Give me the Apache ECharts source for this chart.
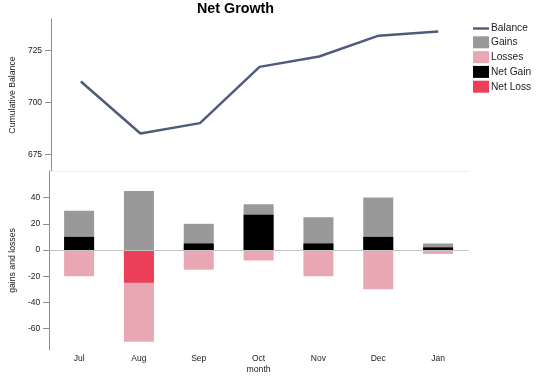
<!DOCTYPE html>
<html>
<head>
<meta charset="utf-8">
<script src="https://cdn.jsdelivr.net/npm/echarts@6/dist/echarts.min.js"></script>
<style>
  html, body { margin: 0; padding: 0; background: #fff; }
  #chart { width: 540px; height: 376px; }
</style>
</head>
<body>
<div id="chart"></div>
<script>
var months = ['Jul', 'Aug', 'Sep', 'Oct', 'Nov', 'Dec', 'Jan'];
var balance = [710, 685, 690, 717, 722, 732, 734];
var gains = [30, 45, 20, 35, 25, 40, 5];
var losses = [-20, -70, -15, -8, -20, -30, -3];
var netGain = [10, null, 5, 27, 5, 10, 2];
var netLoss = [null, -25, null, null, null, null, null];
var balanceTicks = [675, 700, 725];
var gainTicks = [-60, -40, -20, 0, 20, 40];

var font = 'Liberation Sans';
var axisGray = '#8c8c8c';
var lineColor = '#4f5c79';

var myChart = echarts.init(document.getElementById('chart'));

var option = {
    backgroundColor: '#fff',
    animation: false,
    title: {
        text: 'Net Growth',
        left: 197,
        top: 2,
        padding: 0,
        textStyle: { fontFamily: font, fontSize: 14.3, fontWeight: 'bold', color: '#000' }
    },
    legend: {
        orient: 'vertical',
        left: 473,
        top: 23.5,
        padding: 0,
        itemWidth: 16,
        itemHeight: 12,
        itemGap: 2.8,
        icon: 'rect',
        textStyle: { fontFamily: font, fontSize: 10.2, color: '#222', padding: [0, 0, 0, -3] },
        data: [
            { name: 'Balance', icon: 'path://M0,0 L16,0 L16,2.4 L0,2.4 Z', itemStyle: { color: lineColor } },
            'Gains', 'Losses', 'Net Gain', 'Net Loss'
        ]
    },
    grid: [
        { left: 47, right: 72, top: 19, height: 152 },
        { left: 47, right: 72, top: 171, height: 179 }
    ],
    xAxis: [
        {
            type: 'category', gridIndex: 0, data: months,
            axisLine: { lineStyle: { color: '#ebebeb', width: 1 } },
            axisTick: { show: false },
            axisLabel: { show: false }
        },
        {
            type: 'category', gridIndex: 1, data: months,
            name: 'month', nameLocation: 'middle', nameGap: 15,
            nameTextStyle: { fontFamily: font, fontSize: 8.7, color: '#222' },
            axisLine: { lineStyle: { color: '#999999' } },
            axisTick: { show: false },
            axisLabel: { fontFamily: font, fontSize: 8.5, color: '#222', margin: 4 }
        }
    ],
    yAxis: [
        {
            type: 'value', gridIndex: 0, min: 667, max: 740,
            name: 'Cumulative Balance', nameLocation: 'middle', nameGap: 32,
            nameTextStyle: { fontFamily: font, fontSize: 8.7, color: '#222' },
            axisLine: { show: true, lineStyle: { color: axisGray } },
            axisTick: { show: true, length: 6, customValues: balanceTicks, lineStyle: { color: axisGray } },
            axisLabel: { fontFamily: font, fontSize: 8.5, color: '#222', margin: 9, customValues: balanceTicks },
            splitLine: { show: false }
        },
        {
            type: 'value', gridIndex: 1, min: -76.3, max: 60.3,
            name: 'gains and losses', nameLocation: 'middle', nameGap: 32,
            nameTextStyle: { fontFamily: font, fontSize: 8.7, color: '#222' },
            axisLine: { show: true, lineStyle: { color: axisGray } },
            axisTick: { show: true, length: 6, customValues: gainTicks, lineStyle: { color: axisGray } },
            axisLabel: { fontFamily: font, fontSize: 8.5, color: '#222', margin: 9, customValues: gainTicks },
            splitLine: { show: false }
        }
    ],
    series: [
        {
            name: 'Balance', type: 'line', xAxisIndex: 0, yAxisIndex: 0,
            data: balance, symbol: 'none',
            itemStyle: { color: lineColor },
            lineStyle: { color: lineColor, width: 2.5 }
        },
        {
            name: 'Gains', type: 'bar', xAxisIndex: 1, yAxisIndex: 1,
            data: gains, barWidth: 30, barGap: '-100%',
            itemStyle: { color: '#999999' },
            markLine: {
                silent: true, symbol: 'none', label: { show: false },
                lineStyle: { color: '#c4c4c4', type: 'solid', width: 1 },
                data: [{ yAxis: 0 }]
            }
        },
        {
            name: 'Losses', type: 'bar', xAxisIndex: 1, yAxisIndex: 1,
            data: losses, barWidth: 30, barGap: '-100%',
            itemStyle: { color: '#e9a7b3' }
        },
        {
            name: 'Net Gain', type: 'bar', xAxisIndex: 1, yAxisIndex: 1,
            data: netGain, barWidth: 30, barGap: '-100%',
            itemStyle: { color: '#000000' }
        },
        {
            name: 'Net Loss', type: 'bar', xAxisIndex: 1, yAxisIndex: 1,
            data: netLoss, barWidth: 30, barGap: '-100%',
            itemStyle: { color: '#eb3f59' }
        }
    ]
};

myChart.setOption(option);
</script>
</body>
</html>
